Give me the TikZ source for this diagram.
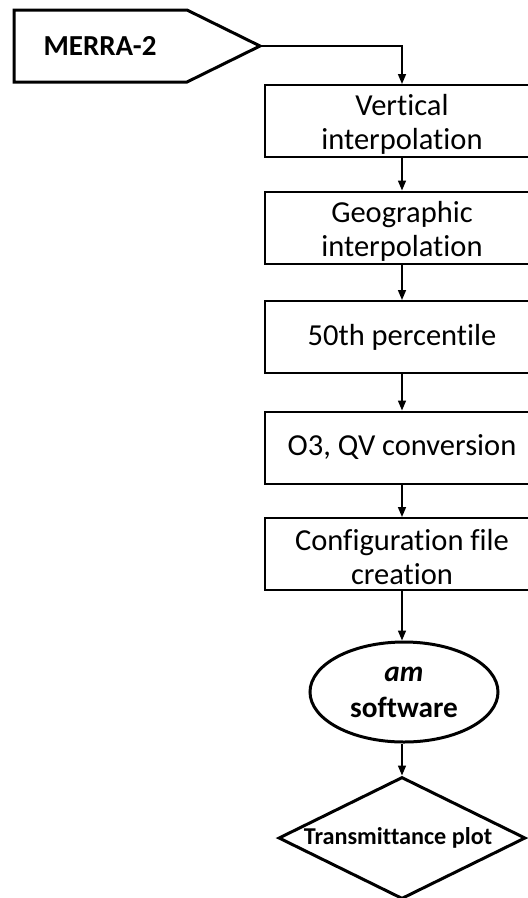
\documentclass[tikz,border=0pt]{standalone}
\usepackage{fontspec}
\setmainfont[RawFeature={-liga;-clig;-calt;-dlig}]{Carlito}
\usetikzlibrary{shapes.geometric,arrows.meta}
\begin{document}
\begin{tikzpicture}[x=1pt,y=-1pt,
  procbox/.style={draw, line width=2pt, minimum width=274pt, minimum height=72pt,
    inner sep=0pt, align=center, font=\fontsize{30.5}{34}\selectfont},
  twoline/.style={text height=62pt},
  flow/.style={line width=1.5pt, -{Triangle[length=10pt,width=8pt]}},
  thickline/.style={line width=3pt, line join=miter}]
\clip (0,0) rectangle (528,898);
% MERRA-2 input pentagon
\draw[thickline] (14,10) -- (187,10) -- (260,46) -- (187,82) -- (14,82) -- cycle;
\node[font=\fontsize{29}{32}\selectfont\bfseries] (merra) at (100,46) {MERRA-2};
\coordinate (tip) at (260,46);
% process boxes
\node[procbox, twoline] (vert) at (402,121) {Vertical\\interpolation};
\node[procbox, twoline] (geo) at (402,227.5) {Geographic\\interpolation};
\node[procbox] (pct) at (402,337) {50th percentile};
\node[procbox] (conv) at (402,447.5) {O3, QV conversion};
\node[procbox, twoline] (conf) at (402,554) {Configuration file\\creation};
% am software
\node[ellipse, draw, thickline, minimum width=188pt, minimum height=100pt, inner sep=0pt,
  align=center, font=\fontsize{29.3}{36}\selectfont\bfseries] (am) at (404,692)
  {\textit{am}\\software};
% output
\node[diamond, draw, thickline, aspect=2.03, minimum width=247pt, minimum height=122pt,
  inner sep=0pt, font=\fontsize{24.2}{28}\selectfont\bfseries] (plot) at (402,838)
  {\hspace*{-8pt}Transmittance plot};
% connectors
\draw[flow] (tip) -- (vert.north |- tip) -- (vert.north);
\draw[flow] (vert) -- (geo);
\draw[flow] (geo) -- (pct);
\draw[flow] (pct) -- (conv);
\draw[flow] (conv) -- (conf);
\draw[flow] (conf.south) -- (conf.south |- am.north);
\draw[flow] (am.south -| plot.north) -- (plot.north);
\end{tikzpicture}
\end{document}
